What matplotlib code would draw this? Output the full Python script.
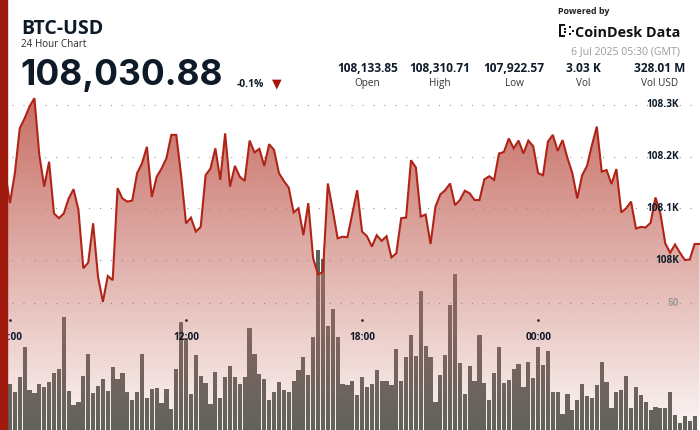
import numpy as np
import matplotlib.pyplot as plt
from matplotlib.patches import Rectangle, Polygon
from matplotlib.transforms import blended_transform_factory

# ----------------------------------------------------------------------------------------------------------------------
# Data: 10 minute points from 05:30 (5 Jul) to 05:30 (6 Jul), GMT
# ----------------------------------------------------------------------------------------------------------------------
price = [108134, 108150, 108170, 108110, 108168, 108255, 108274, 108297, 108313, 108203,
         108142, 108190, 108090, 108081, 108090, 108119, 108137, 108097, 107984, 107995,
         108071, 107968, 107919, 107969, 107961, 108139, 108119, 108113, 108115, 108168,
         108187, 108219, 108122, 108161, 108177, 108197, 108242, 108242, 108164, 108071,
         108082, 108055, 108064, 108164, 108177, 108216, 108155, 108245, 108142, 108182,
         108161, 108153, 108231, 108208, 108215, 108182, 108224, 108213, 108168, 108153,
         108140, 108092, 108100, 108048, 108110, 108003, 107972, 107977, 108148, 108097,
         108042, 108045, 108044, 108090, 108135, 108055, 108046, 108026, 108048, 108037,
         108046, 108005, 108013, 108081, 108082, 108193, 108179, 108084, 108088, 108031,
         108103, 108127, 108135, 108148, 108106, 108116, 108134, 108129, 108116, 108116,
         108156, 108162, 108155, 108206, 108209, 108235, 108216, 108231, 108206, 108231,
         108220, 108168, 108164, 108229, 108242, 108211, 108232, 108197, 108168, 108119,
         108164, 108182, 108222, 108258, 108171, 108174, 108147, 108176, 108092, 108100,
         108113, 108061, 108064, 108063, 108072, 108121, 108090, 108032, 108014, 108030,
         108014, 108000, 108001, 108031, 108031]

volume = [18.0, 20.0, 18.4, 18.0, 14.8, 20.9, 32.5, 15.7, 14.7, 18.2,
          16.9, 18.8, 22.3, 23.9, 44.6, 15.2, 9.8, 10.9, 21.3, 29.8,
          14.7, 17.2, 20.0, 15.5, 24.8, 20.2, 22.4, 15.1, 11.8, 15.1,
          29.8, 12.7, 16.1, 16.4, 10.8, 16.0, 8.4, 24.1, 42.4, 36.1,
          14.2, 29.4, 21.1, 18.5, 10.1, 22.8, 12.7, 20.9, 25.2, 20.7,
          18.0, 20.9, 40.3, 30.1, 22.0, 20.2, 11.8, 15.1, 19.0, 15.7,
          14.8, 19.3, 23.6, 28.9, 21.7, 36.6, 70.9, 67.3, 40.9, 47.6,
          36.5, 18.0, 17.6, 19.4, 13.8, 21.0, 16.9, 18.2, 23.6, 19.3,
          19.3, 17.6, 31.8, 19.2, 28.7, 37.3, 29.1, 54.7, 33.2, 28.6,
          11.2, 21.5, 29.4, 49.2, 61.3, 26.2, 14.2, 25.1, 19.2, 37.4,
          18.4, 11.8, 22.4, 32.5, 18.5, 19.7, 24.1, 25.9, 16.8, 26.6,
          20.5, 32.5, 25.6, 31.2, 14.8, 14.8, 6.3, 14.0, 7.7, 11.9,
          18.1, 13.5, 12.7, 17.6, 26.8, 18.9, 8.7, 15.1, 15.9, 21.3,
          8.7, 17.1, 13.9, 11.2, 7.9, 9.2, 8.5, 8.7, 15.0, 5.9,
          2.8, 5.5, 3.7, 5.6]

time_ticks = [3, 39, 75, 111]
time_labels = ['06:00', '12:00', '18:00', '00:00']
price_ticks = [108000, 108100, 108200, 108300]
price_labels = ['108K', '108.1K', '108.2K', '108.3K']
vol_tick = 50

stat_values = ['108,133.85', '108,310.71', '107,922.57', '3.03 K', '328.01 M']
stat_names = ['Open', 'High', 'Low', 'Vol', 'Vol USD']
stat_x = [367.5, 440, 514, 583, 659.5]

# ----------------------------------------------------------------------------------------------------------------------
# Figure
# ----------------------------------------------------------------------------------------------------------------------
plt.rcParams['font.family'] = ['Open Sans', 'DejaVu Sans']
W, H = 700, 430
fig = plt.figure(figsize=(7, 4.3), dpi=100)
navy = '#0e1a28'


def fx(x):
    return x / W


def fy(y):
    return 1 - y / H


x_lo, x_hi = 0.96, 144.1
p_lo, p_hi = 107671.2, 108502.9

ax_vol = fig.add_axes([0, 0, 1, 1])
ax = fig.add_axes([0, 0, 1, 1])
ax.patch.set_alpha(0)

idx = np.arange(len(price))
ax_vol.bar(np.arange(len(volume)), volume, width=0.86, color='#5a625c', zorder=1)

# gradient fill under the price line
grad_top = max(price)
grad = np.zeros((256, 1, 4))
grad[..., 0], grad[..., 1], grad[..., 2] = 199 / 255, 110 / 255, 100 / 255
grad[:, 0, 3] = np.linspace(1.0, 0.07, 256)
im = ax.imshow(grad, extent=[x_lo, x_hi, p_lo, grad_top], aspect='auto', origin='upper',
               interpolation='bilinear', zorder=2)
verts = [(idx[0], p_lo)] + list(zip(idx, price)) + [(idx[-1], p_lo)]
clip = Polygon(verts, closed=True, transform=ax.transData, facecolor='none', edgecolor='none')
ax.add_patch(clip)
im.set_clip_path(clip)

ax.plot(idx, price, color='#b02418', lw=1.5, zorder=4, solid_joinstyle='miter')

# dotted grid
dots = dict(color='#8c8c8c', lw=0.75, linestyle=(0, (1, 9.5)), zorder=3)
for p in price_ticks:
    ax.plot([3.35, x_hi], [p, p], **dots)
ax.plot([3.35, x_hi], [vol_tick, vol_tick], transform=ax_vol.transData, **dots)

tr_right = blended_transform_factory(ax.transAxes, ax.transData)
for p, lab in zip(price_ticks, price_labels):
    ax.text(679 / W, p, lab, transform=tr_right, ha='right', va='center',
            fontsize=7.2, fontweight='bold', color=navy, zorder=5)
ax.text(679 / W, vol_tick, str(vol_tick), transform=blended_transform_factory(ax.transAxes, ax_vol.transData),
        ha='right', va='center', fontsize=7.2, fontweight='bold', color='#a09a98', zorder=5)

tr_time = blended_transform_factory(ax.transData, ax.transAxes)
for t, lab in zip(time_ticks, time_labels):
    ax.plot([t], [fy(320)], marker='s', ms=0.8, color='#222222', transform=tr_time, zorder=5)
    ax.text(t, fy(337), lab, transform=tr_time, ha='center', va='center',
            fontsize=7.2, fontweight='bold', color=navy, zorder=5)

for a in (ax, ax_vol):
    a.set_xlim(x_lo, x_hi)
    a.axis('off')
ax.set_ylim(p_lo, p_hi)
ax_vol.set_ylim(0, vol_tick * H / 127)

# left accent bar
fig.add_artist(Rectangle((0, 0), 7 / W, 1, transform=fig.transFigure, color='#a11a0e', zorder=10))

# ----------------------------------------------------------------------------------------------------------------------
# Header
# ----------------------------------------------------------------------------------------------------------------------
fig.text(fx(21), fy(34), 'BTC-USD', fontsize=14, fontweight='bold', color=navy, va='baseline')
fig.text(fx(21), fy(47.3), '24 Hour Chart', fontsize=7.1, color='#2a2a2a', va='baseline')
fig.text(fx(20), fy(85), '108,030.88', fontsize=25.5, fontweight='bold', color=navy, va='baseline',
         family=['Inter', 'Open Sans', 'DejaVu Sans'])
fig.text(fx(237), fy(87.3), '-0.1%', fontsize=7.4, fontweight='bold', color=navy, va='baseline')
fig.text(fx(276.5), fy(84), '\u25bc', fontsize=9, color='#a3160c', ha='center', va='center',
         family='DejaVu Sans')

for x, v, n in zip(stat_x, stat_values, stat_names):
    fig.text(fx(x), fy(71.7), v, fontsize=8.6, fontweight='bold', color=navy, ha='center', va='baseline')
    fig.text(fx(x), fy(85.7), n, fontsize=7.2, color='#333333', ha='center', va='baseline')

fig.text(fx(558.5), fy(13.5), 'Powered by', fontsize=6.4, fontweight='bold', color='#222222', va='baseline')
fig.text(fx(575), fy(36.7), 'CoinDesk Data', fontsize=10.4, fontweight='bold', color='#111111', va='baseline')
fig.text(fx(680), fy(54.5), '6 Jul 2025 05:30 (GMT)', fontsize=7.55, color='#9b9b9b', ha='right', va='baseline')

# logo mark
for (x0, y0, w, h) in [(559, 24, 2.2, 13), (559, 24, 6, 2.2), (559, 34.8, 6, 2.2),
                       (564, 28, 2.2, 2.2), (564, 31, 2.2, 2.2), (569, 26, 2.2, 2.2), (569, 33, 2.2, 2.2),
                       (571.5, 29.5, 2.2, 2.2)]:
    fig.add_artist(Rectangle((fx(x0), fy(y0 + h)), w / W, h / H, transform=fig.transFigure,
                             color='#111111', lw=0))

fig.savefig('out.png', dpi=100)
